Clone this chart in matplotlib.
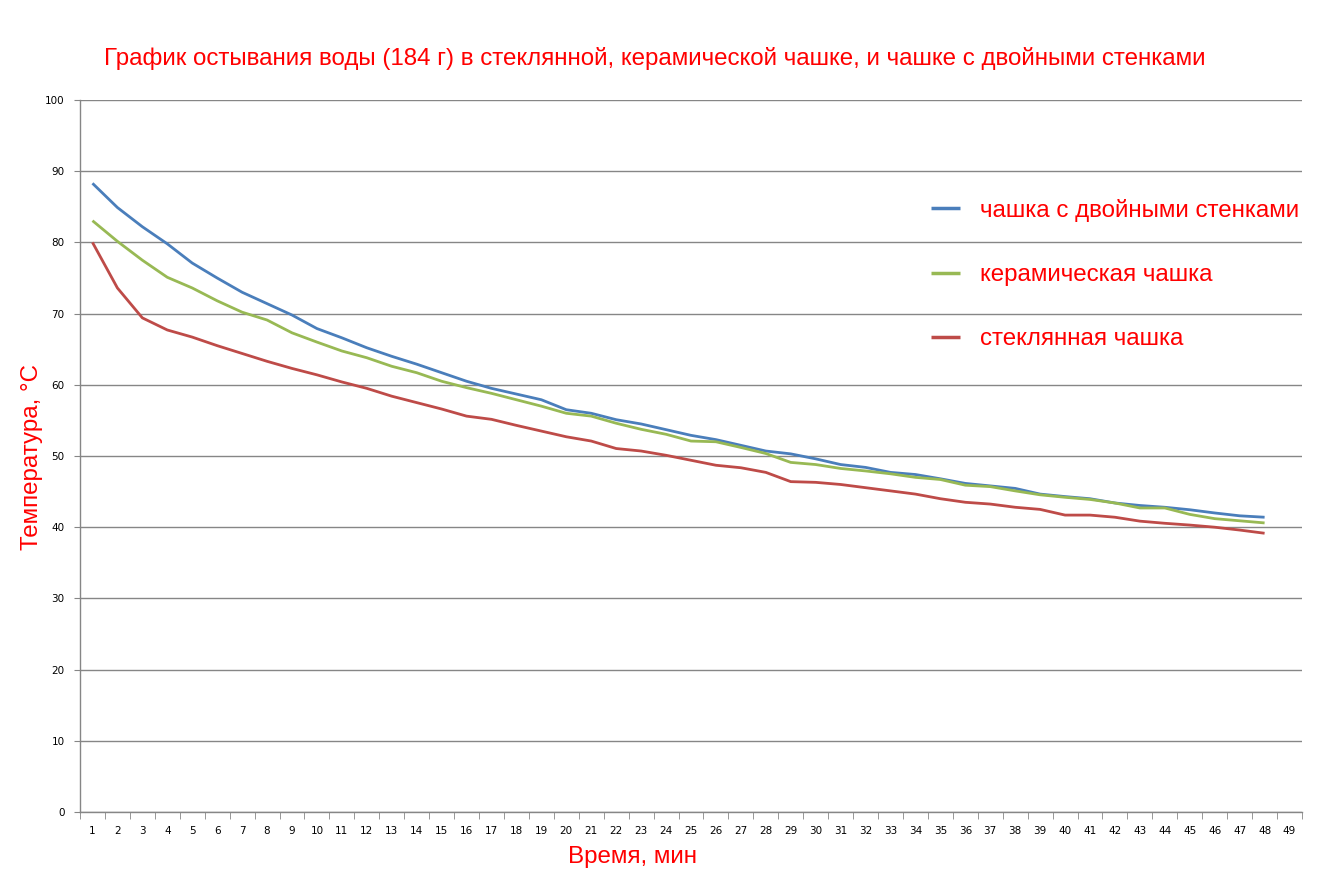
import matplotlib
matplotlib.use("Agg")
import matplotlib.pyplot as plt
import numpy as np

minutes = list(range(1, 49))
category_labels = [str(i) for i in range(1, 50)]

double_wall = [88.3, 84.9, 82.2, 79.8, 77.1, 75.0, 73.0, 71.4, 69.8, 67.9,
               66.6, 65.2, 64.0, 62.9, 61.7, 60.5, 59.5, 58.7, 57.9, 56.5,
               56.0, 55.1, 54.5, 53.7, 52.9, 52.3, 51.5, 50.7, 50.3, 49.6,
               48.8, 48.4, 47.7, 47.4, 46.8, 46.15, 45.8, 45.45, 44.65, 44.3,
               44.0, 43.4, 43.05, 42.8, 42.45, 42.0, 41.6, 41.4]
ceramic = [83.05, 80.15, 77.5, 75.1, 73.6, 71.8, 70.2, 69.1, 67.3, 66.0,
           64.75, 63.8, 62.6, 61.7, 60.5, 59.6, 58.8, 57.9, 57.0, 56.0,
           55.6, 54.6, 53.75, 53.05, 52.1, 52.0, 51.2, 50.35, 49.1, 48.8,
           48.25, 47.9, 47.5, 47.0, 46.7, 45.9, 45.7, 45.1, 44.55, 44.2,
           43.9, 43.4, 42.7, 42.7, 41.8, 41.2, 40.9, 40.6]
glass = [80.0, 73.6, 69.4, 67.7, 66.7, 65.5, 64.4, 63.3, 62.3, 61.4,
         60.4, 59.5, 58.4, 57.5, 56.6, 55.6, 55.15, 54.3, 53.5, 52.7,
         52.1, 51.05, 50.7, 50.1, 49.4, 48.7, 48.35, 47.7, 46.4, 46.3,
         46.0, 45.55, 45.1, 44.65, 44.0, 43.5, 43.25, 42.8, 42.5, 41.7,
         41.7, 41.4, 40.85, 40.55, 40.3, 40.0, 39.6, 39.15]

series_names = ["чашка с двойными стенками", "керамическая чашка", "стеклянная чашка"]
series_colors = ["#4A7EBB", "#98B954", "#BE4B48"]

plt.rcParams['font.family'] = ['Liberation Sans', 'DejaVu Sans']

fig = plt.figure(figsize=(13.26, 8.8), dpi=100)
ax = fig.add_axes([80/1326, 68/880, 1222/1326, 712/880])

for vals, name, col in zip([double_wall, ceramic, glass], series_names, series_colors):
    ax.plot(minutes, vals, color=col, lw=2.0, label=name, solid_capstyle='butt')

ax.set_xlim(0.5, 49.5)
ax.set_ylim(0, 100)
ax.set_yticks(np.arange(0, 101, 10))
ax.yaxis.grid(True, color='#868686', lw=1)
ax.set_axisbelow(True)

ax.set_xticks(range(1, 50))
ax.set_xticklabels(category_labels)
ax.set_xticks(np.arange(0.5, 50, 1), minor=True)
ax.tick_params(axis='x', which='major', length=0, pad=10, labelsize=7.5)
ax.tick_params(axis='x', which='minor', length=5, color='#868686', direction='out')
ax.tick_params(axis='y', length=4, color='#868686', pad=7, labelsize=7.5)
for lab in ax.get_xticklabels() + ax.get_yticklabels():
    lab.set_fontfamily('DejaVu Sans')

for s in ['top', 'right']:
    ax.spines[s].set_visible(False)
for s in ['left', 'bottom']:
    ax.spines[s].set_color('#868686')
    ax.spines[s].set_linewidth(1)

fs = 17.4
fig.text(655/1326, 1 - 58/880,
         "График остывания воды (184 г) в стеклянной, керамической чашке, и чашке с двойными стенками",
         color='red', fontsize=fs, ha='center', va='center')
fig.text(32/1326, 1 - 457/880, "Температура, °С", color='red', fontsize=fs,
         rotation=90, ha='center', va='center')
fig.text(632/1326, 1 - 857/880, "Время, мин", color='red', fontsize=fs,
         ha='center', va='center')

leg = ax.legend(loc='upper left', bbox_to_anchor=(909/1326, 1 - 177/880),
                bbox_transform=fig.transFigure, frameon=False, fontsize=fs,
                handlelength=1.2, handletextpad=0.85, labelspacing=1.75,
                labelcolor='red')
for h in leg.get_lines():
    h.set_linewidth(2.5)

fig.savefig("out.png", dpi=100, facecolor='white')
